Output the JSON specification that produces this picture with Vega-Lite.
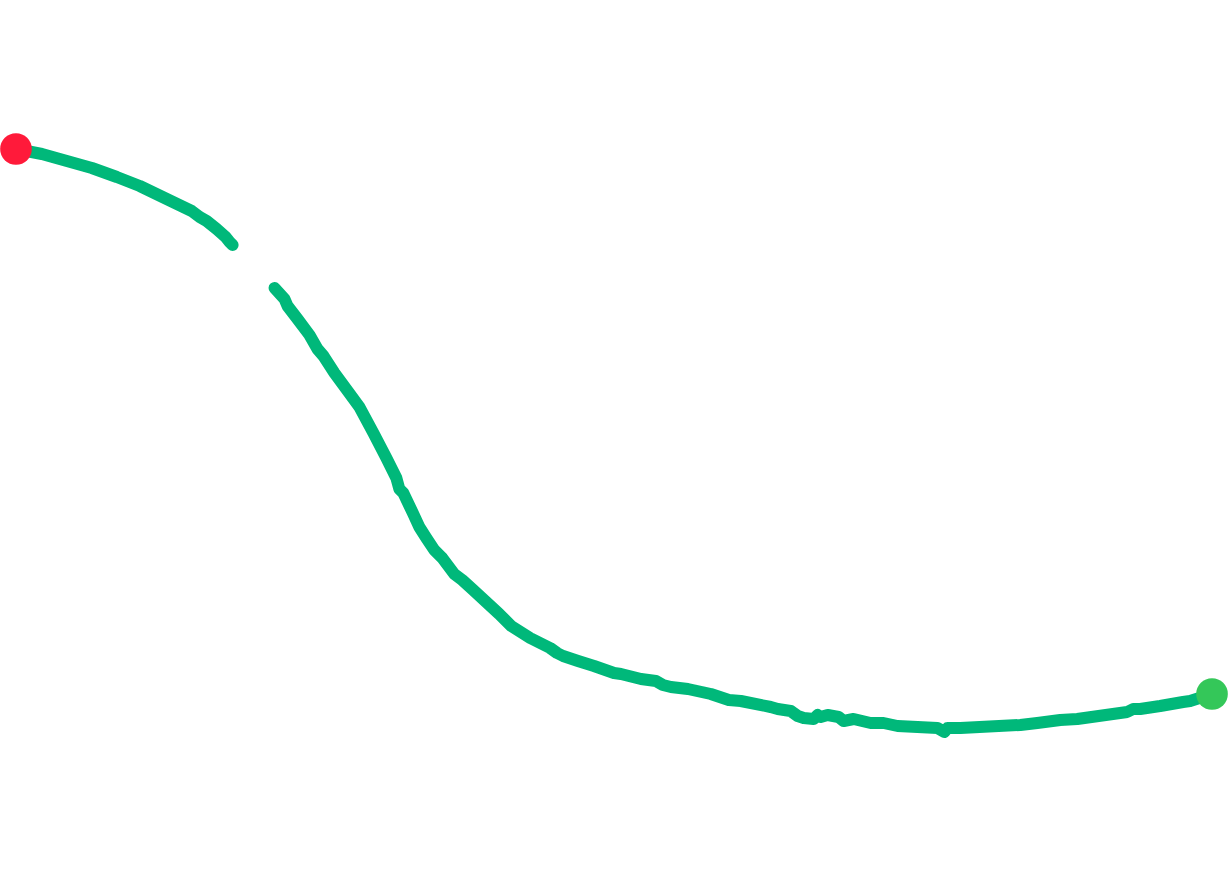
{
  "$schema": "https://vega.github.io/schema/vega-lite/v6.json",
  "width": 1229,
  "height": 885,
  "padding": 0,
  "autosize": {"type": "fit", "contains": "padding"},
  "config": {"view": {"stroke": null}},
  "datasets": {
    "series": [
      {"seg": 1, "t": 1.4, "v": 73.6}, {"seg": 1, "t": 4.0, "v": 73.1}, {"seg": 1, "t": 6.5, "v": 72.4},
      {"seg": 1, "t": 9.0, "v": 71.7}, {"seg": 1, "t": 11.5, "v": 70.8}, {"seg": 1, "t": 13.8, "v": 69.9},
      {"seg": 1, "t": 16.5, "v": 68.6}, {"seg": 1, "t": 19.0, "v": 67.4}, {"seg": 1, "t": 19.8, "v": 66.8},
      {"seg": 1, "t": 20.5, "v": 66.4}, {"seg": 1, "t": 21.5, "v": 65.6}, {"seg": 1, "t": 22.4, "v": 64.8},
      {"seg": 1, "t": 22.8, "v": 64.3}, {"seg": 1, "t": 23.1, "v": 64.0},
      {"seg": 2, "t": 27.3, "v": 59.7}, {"seg": 2, "t": 28.3, "v": 58.6}, {"seg": 2, "t": 28.6, "v": 57.9},
      {"seg": 2, "t": 29.6, "v": 56.6}, {"seg": 2, "t": 30.8, "v": 55.0}, {"seg": 2, "t": 31.6, "v": 53.6},
      {"seg": 2, "t": 32.2, "v": 52.9}, {"seg": 2, "t": 33.3, "v": 51.2}, {"seg": 2, "t": 34.7, "v": 49.3},
      {"seg": 2, "t": 35.8, "v": 47.8}, {"seg": 2, "t": 37.2, "v": 45.2}, {"seg": 2, "t": 38.5, "v": 42.7},
      {"seg": 2, "t": 39.5, "v": 40.7}, {"seg": 2, "t": 39.8, "v": 39.6}, {"seg": 2, "t": 40.2, "v": 39.2},
      {"seg": 2, "t": 41.2, "v": 37.1}, {"seg": 2, "t": 41.8, "v": 35.8}, {"seg": 2, "t": 42.5, "v": 34.7},
      {"seg": 2, "t": 43.3, "v": 33.5}, {"seg": 2, "t": 44.1, "v": 32.7}, {"seg": 2, "t": 44.7, "v": 31.9},
      {"seg": 2, "t": 45.3, "v": 31.1}, {"seg": 2, "t": 46.1, "v": 30.5}, {"seg": 2, "t": 47.2, "v": 29.5},
      {"seg": 2, "t": 48.5, "v": 28.3}, {"seg": 2, "t": 49.8, "v": 27.1}, {"seg": 2, "t": 51.0, "v": 25.9},
      {"seg": 2, "t": 52.9, "v": 24.7}, {"seg": 2, "t": 54.9, "v": 23.7}, {"seg": 2, "t": 55.6, "v": 23.2},
      {"seg": 2, "t": 56.2, "v": 22.9}, {"seg": 2, "t": 57.7, "v": 22.4}, {"seg": 2, "t": 59.3, "v": 21.9},
      {"seg": 2, "t": 61.3, "v": 21.2}, {"seg": 2, "t": 62.0, "v": 21.1}, {"seg": 2, "t": 64.0, "v": 20.6},
      {"seg": 2, "t": 65.5, "v": 20.4}, {"seg": 2, "t": 66.2, "v": 20.0}, {"seg": 2, "t": 67.0, "v": 19.8},
      {"seg": 2, "t": 68.7, "v": 19.6}, {"seg": 2, "t": 71.0, "v": 19.1}, {"seg": 2, "t": 72.8, "v": 18.5},
      {"seg": 2, "t": 74.0, "v": 18.4}, {"seg": 2, "t": 77.0, "v": 17.8}, {"seg": 2, "t": 77.7, "v": 17.6},
      {"seg": 2, "t": 79.0, "v": 17.4}, {"seg": 2, "t": 79.7, "v": 16.9}, {"seg": 2, "t": 80.3, "v": 16.7},
      {"seg": 2, "t": 81.3, "v": 16.6}, {"seg": 2, "t": 81.7, "v": 17.0}, {"seg": 2, "t": 82.0, "v": 16.8},
      {"seg": 2, "t": 82.7, "v": 17.0}, {"seg": 2, "t": 83.8, "v": 16.8}, {"seg": 2, "t": 84.3, "v": 16.4},
      {"seg": 2, "t": 85.3, "v": 16.6}, {"seg": 2, "t": 87.0, "v": 16.2}, {"seg": 2, "t": 88.3, "v": 16.2},
      {"seg": 2, "t": 89.7, "v": 15.9}, {"seg": 2, "t": 91.7, "v": 15.8}, {"seg": 2, "t": 93.7, "v": 15.7},
      {"seg": 2, "t": 94.4, "v": 15.3}, {"seg": 2, "t": 94.7, "v": 15.7}, {"seg": 2, "t": 96.0, "v": 15.7},
      {"seg": 2, "t": 102.0, "v": 16.0}, {"seg": 2, "t": 103.7, "v": 16.2}, {"seg": 2, "t": 106.0, "v": 16.5},
      {"seg": 2, "t": 107.7, "v": 16.6}, {"seg": 2, "t": 112.7, "v": 17.3}, {"seg": 2, "t": 113.3, "v": 17.6},
      {"seg": 2, "t": 114.0, "v": 17.6}, {"seg": 2, "t": 116.0, "v": 17.9}, {"seg": 2, "t": 118.3, "v": 18.3},
      {"seg": 2, "t": 119.0, "v": 18.4}, {"seg": 2, "t": 121.2, "v": 19.1}
    ],
    "ends": [
      {"kind": "start", "t": 1.4, "v": 73.6},
      {"kind": "end", "t": 121.2, "v": 19.1}
    ]
  },
  "layer": [
    {
      "data": {"name": "series"},
      "mark": {"type": "line", "color": "#00b87a", "strokeWidth": 12, "strokeCap": "round", "strokeJoin": "round"},
      "encoding": {
        "x": {"field": "t", "type": "quantitative", "axis": null, "scale": {"domain": [0, 122.9], "nice": false, "zero": false}},
        "y": {"field": "v", "type": "quantitative", "axis": null, "scale": {"domain": [0, 88.5], "nice": false, "zero": false}},
        "detail": {"field": "seg", "type": "nominal"}
      }
    },
    {
      "data": {"name": "ends"},
      "mark": {"type": "circle", "opacity": 1, "size": 1000},
      "encoding": {
        "x": {"field": "t", "type": "quantitative"},
        "y": {"field": "v", "type": "quantitative"},
        "color": {"field": "kind", "type": "nominal", "legend": null,
          "scale": {"domain": ["start", "end"], "range": ["#ff1a3a", "#34c759"]}}
      }
    }
  ]
}
